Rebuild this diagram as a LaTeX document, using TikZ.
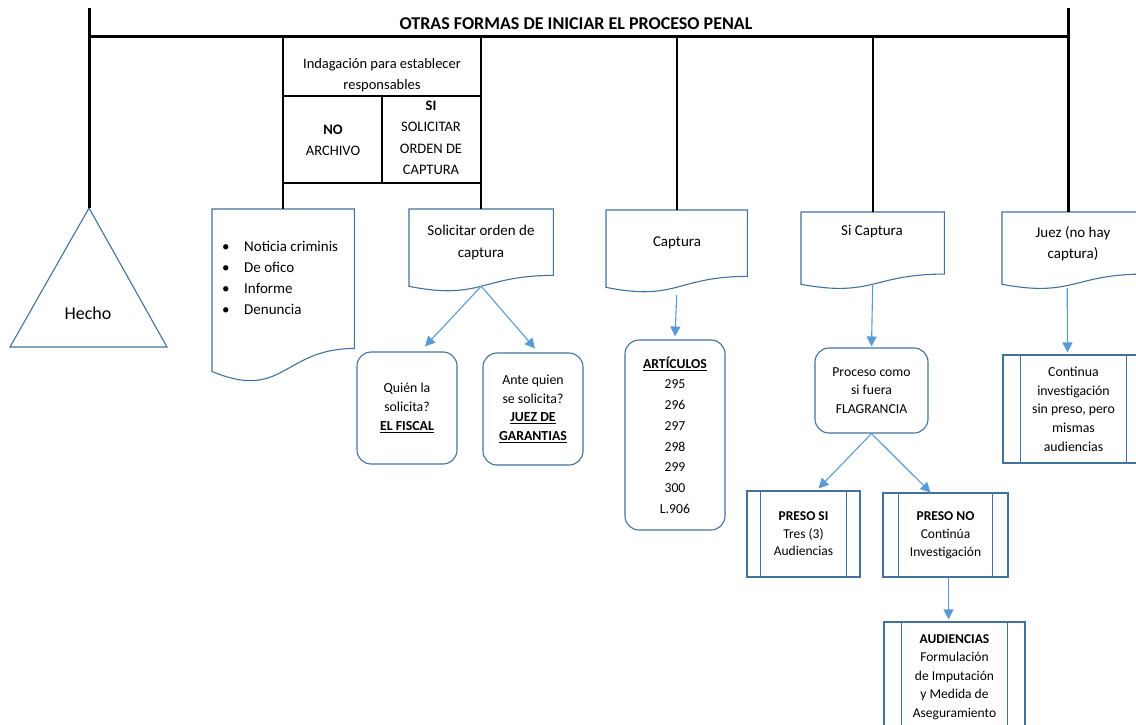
\documentclass[tikz,border=0pt]{standalone}
\usepackage{fontspec}
\setmainfont{Carlito}
\usetikzlibrary{arrows.meta,calc}
\definecolor{shapeblue}{HTML}{41719C}
\definecolor{arrowblue}{HTML}{5B9BD5}
\newcommand\docshape[5]{%
  \node[inner sep=0pt,minimum width=#4pt,minimum height=#5pt,anchor=north west] (#1) at (#2,#3) {};
  \draw[outl] (#1.north west) -- (#1.north east) -- ($(#1.north east)!0.802!(#1.south east)$)
    .. controls ($(#1.north)!0.802!(#1.south)$) and ($(#1.north)!1.107!(#1.south)$) .. ($(#1.north west)!0.934!(#1.south west)$) -- cycle;
  \coordinate (#1-b) at ($(#1.north)!0.933!(#1.south)$);}
\newcommand\sidebars[2]{%
  \draw[outl] ([xshift=#2pt]#1.north west) -- ([xshift=#2pt]#1.south west);
  \draw[outl] ([xshift=-#2pt]#1.north east) -- ([xshift=-#2pt]#1.south east);}
\begin{document}
\begin{tikzpicture}[x=1pt,y=-1pt,
  outl/.style={draw=shapeblue,line width=1.1pt},
  frame/.style={line width=3pt,black},
  tline/.style={line width=2.2pt,black},
  arr/.style={draw=arrowblue,line width=1.1pt,-{Triangle[length=10pt,width=10pt]}},
  txt/.style={font=\fontsize{15}{21}\selectfont,align=center,inner sep=0pt},
  rbox/.style={outl,rounded corners=14pt,inner sep=0pt,align=center},
  pbox/.style={outl,inner sep=0pt,align=center}]
\useasboundingbox (0,0) rectangle (1136,725);
\clip (0,0) rectangle (1136,725);

% title and frame
\node[font=\fontsize{18}{20}\selectfont\bfseries,inner sep=0pt] (title) at (576,24) {OTRAS FORMAS DE INICIAR EL PROCESO PENAL};
\coordinate (ltop) at (89,8);
\coordinate (rtop) at (1068,8);
\coordinate (lbar) at (89,37);
\coordinate (rbar) at (1068,37);

% Hecho triangle
\coordinate (hapex) at (89,208);
\coordinate (hbl) at (10,347);
\coordinate (hbr) at (167,347);
\draw[outl] (hapex) -- (hbr) -- (hbl) -- cycle;
\node[txt,font=\fontsize{18}{20}\selectfont] (hecho) at (88,313) {Hecho};

% documents
\docshape{noticia}{212}{209}{142}{173.5}
\docshape{solicitar}{409}{209}{144}{82.4}
\docshape{captura}{606}{210}{141}{82.4}
\docshape{sicaptura}{801}{212}{143}{77}
\docshape{juez}{1002}{212}{142}{77}

\node[txt,anchor=west,align=left] (noticiaT) at (222,278) {\makebox[22pt][l]{\textbullet}Noticia criminis\\\makebox[22pt][l]{\textbullet}De ofico\\\makebox[22pt][l]{\textbullet}Informe\\\makebox[22pt][l]{\textbullet}Denuncia};
\node[txt,font=\fontsize{15}{22}\selectfont] (solicitarT) at (481,242) {Solicitar orden de\\captura};
\node[txt] (capturaT) at (677,243) {Captura};
\node[txt] (sicapturaT) at (872,232) {Si Captura};
\node[txt] (juezT) at (1073,243.5) {Juez (no hay\\captura)};

% frame lines
\draw[frame] (ltop) -- (hapex);
\draw[frame] (rtop) -- (rtop |- juez.north);
\draw[tline] (noticia.north |- lbar) -- (noticia.north);
\draw[tline] (solicitar.north |- lbar) -- (solicitar.north);
\draw[tline] (captura.north |- lbar) -- (captura.north);
\draw[tline] (sicaptura.north |- lbar) -- (sicaptura.north);
\draw[frame] (lbar) -- (rbar);

% table
\draw[tline] (283,96) -- (481,96);
\draw[tline] (283,183) -- (481,183);
\draw[tline] (382,96) -- (382,183);
\node[txt,font=\fontsize{14.5}{21}\selectfont] (indag) at (382,75) {Indagación para establecer\\responsables};
\node[txt,font=\fontsize{14.5}{21}\selectfont] (nocell) at (333,140) {\textbf{NO}\\ARCHIVO};
\node[txt,font=\fontsize{14.5}{21.5}\selectfont] (sicell) at (431,138) {\textbf{SI}\\SOLICITAR\\ORDEN DE\\CAPTURA};

% rounded boxes
\node[rbox,minimum width=100pt,minimum height=112pt,font=\fontsize{13.8}{19}\selectfont] (quien) at (407,408) {Quién la\\solicita?\\\textbf{\underline{EL FISCAL}}};
\node[rbox,minimum width=100pt,minimum height=112pt,font=\fontsize{13.8}{18.5}\selectfont] (ante) at (533,409) {Ante quien\\se solicita?\\\textbf{\underline{JUEZ DE}}\\\textbf{\underline{GARANTIAS}}};
\node[rbox,minimum width=100pt,minimum height=190pt,font=\fontsize{13.7}{20.7}\selectfont] (articulos) at (675,435) {\textbf{\underline{ARTÍCULOS}}\\295\\296\\297\\298\\299\\300\\L.906};
\node[rbox,minimum width=113pt,minimum height=85pt,font=\fontsize{13.7}{18.5}\selectfont] (proceso) at (871.5,390.5) {Proceso como\\si fuera\\FLAGRANCIA};

% process boxes
\node[pbox,minimum width=113pt,minimum height=86pt,font=\fontsize{13.5}{17.5}\selectfont] (presosi) at (803.5,534) {\textbf{PRESO SI}\\Tres (3)\\Audiencias};
\sidebars{presosi}{14}
\node[pbox,minimum width=125pt,minimum height=84pt,font=\fontsize{13.5}{18}\selectfont] (presono) at (945.5,535) {\textbf{PRESO NO}\\Continúa\\Investigación};
\sidebars{presono}{16}
\node[pbox,minimum width=141pt,minimum height=110pt,font=\fontsize{13.5}{18.5}\selectfont] (audiencias) at (954.5,677) {\textbf{AUDIENCIAS}\\Formulación\\de Imputación\\y Medida de\\Aseguramiento};
\sidebars{audiencias}{18}
\node[pbox,minimum width=141pt,minimum height=108pt,font=\fontsize{13.8}{18.7}\selectfont] (continua) at (1073.5,409) {Continua\\investigación\\sin preso, pero\\mismas\\audiencias};
\sidebars{continua}{18}

% arrows
\draw[arr] (solicitar-b) -- ([xshift=18pt,yshift=5pt]quien.north);
\draw[arr] (solicitar-b) -- ([xshift=2pt,yshift=4pt]ante.north);
\draw[arr] ([yshift=-8pt]captura-b) -- ([yshift=3pt]articulos.north);
\draw[arr] (sicaptura-b) -- ([yshift=1pt]proceso.north);
\draw[arr] (proceso.south) -- ([xshift=15pt,yshift=2pt]presosi.north);
\draw[arr] (proceso.south) -- ([xshift=-15pt]presono.north);
\draw[arr] ([xshift=3pt]presono.south) -- ([xshift=-6pt,yshift=2pt]audiencias.north);
\draw[arr] ([xshift=-6pt,yshift=-4pt]juez-b) -- ([xshift=-6pt,yshift=2pt]continua.north);
\end{tikzpicture}
\end{document}
